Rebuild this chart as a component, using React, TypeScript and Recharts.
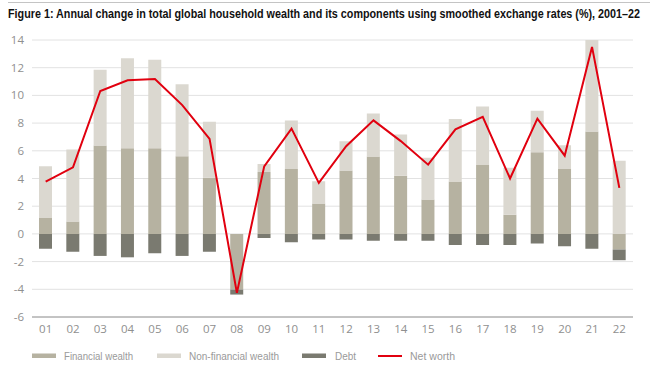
import React from 'react'
import {
  ComposedChart, Bar, Line, XAxis, YAxis, CartesianGrid
} from 'recharts'

const years = ['01','02','03','04','05','06','07','08','09','10','11','12','13','14','15','16','17','18','19','20','21','22']
const financialWealth = [1.18, 0.89, 6.38, 6.18, 6.18, 5.6, 4.06, -4.02, 4.47, 4.69, 2.19, 4.57, 5.58, 4.19, 2.48, 3.78, 4.98, 1.39, 5.89, 4.69, 7.39, -1.13]
const nonFinancialWealth = [3.7, 5.2, 5.48, 6.5, 6.4, 5.2, 4.03, 0, 0.58, 3.49, 1.61, 2.12, 3.11, 2.98, 3.02, 4.52, 4.21, 3.38, 3.01, 1.71, 6.61, 5.29]
const debt = [-1.08, -1.28, -1.59, -1.69, -1.4, -1.59, -1.28, -0.36, -0.29, -0.6, -0.41, -0.41, -0.5, -0.5, -0.5, -0.8, -0.8, -0.8, -0.7, -0.89, -1.08, -0.77]
const netWorth = [3.78, 4.81, 10.32, 11.09, 11.19, 9.3, 6.86, -4.26, 4.88, 7.6, 3.68, 6.33, 8.2, 6.7, 5.0, 7.55, 8.45, 4.0, 8.32, 5.65, 13.5, 3.32]
const yTicks = [-6, -4, -2, 0, 2, 4, 6, 8, 10, 12, 14]

const COLORS = {
  fin: '#b6b2a1',
  nonfin: '#dbd8d0',
  debt: '#7a7a70',
  net: '#e1000f',
}

const sans = '"Liberation Sans", Arial, sans-serif'
const tickFont = { fill: '#8f8f8f', fontSize: 11.5, fontFamily: '"Open Sans", sans-serif' }

const data = years.map((y, i) => ({
  year: y,
  fin: financialWealth[i],
  nonfin: nonFinancialWealth[i],
  debt: debt[i],
  net: netWorth[i],
}))

const legendItems = [
  { label: 'Financial wealth', color: COLORS.fin, kind: 'box', x: 32, tx: 64, w: 69 },
  { label: 'Non-financial wealth', color: COLORS.nonfin, kind: 'box', x: 157, tx: 189, w: 90 },
  { label: 'Debt', color: COLORS.debt, kind: 'box', x: 302, tx: 335, w: 21 },
  { label: 'Net worth', color: COLORS.net, kind: 'line', x: 378, tx: 410, w: 45 },
]

export default function App() {
  return (
    <div style={{ position: 'absolute', left: 0, top: 0, width: 660, height: 369, background: '#fff', overflow: 'hidden' }}>
      <div style={{ position: 'absolute', left: 0, top: 0 }}>
        <ComposedChart
          width={660}
          height={369}
          data={data}
          stackOffset="sign"
          margin={{ top: 40, right: 27, left: 0, bottom: 22 }}
        >
          <CartesianGrid vertical={false} stroke="#e2e2e2" strokeWidth={1} />
          <XAxis
            dataKey="year"
            height={30}
            tickLine={false}
            axisLine={{ stroke: '#b4b4b4', strokeWidth: 1.5 }}
            tick={tickFont}
            interval={0}
          />
          <YAxis
            width={32}
            domain={[-6, 14]}
            ticks={yTicks}
            tickLine={false}
            axisLine={false}
            tick={tickFont}
            allowDataOverflow
          />
          <Bar dataKey="fin" stackId="a" fill={COLORS.fin} barSize={13} isAnimationActive={false} />
          <Bar dataKey="nonfin" stackId="a" fill={COLORS.nonfin} barSize={13} isAnimationActive={false} />
          <Bar dataKey="debt" stackId="a" fill={COLORS.debt} barSize={13} isAnimationActive={false} />
          <Line
            type="linear"
            dataKey="net"
            stroke={COLORS.net}
            strokeWidth={2}
            dot={false}
            isAnimationActive={false}
          />
        </ComposedChart>
      </div>
      <svg width={660} height={369} style={{ position: 'absolute', left: 0, top: 0, pointerEvents: 'none' }}>
        <line x1={8} x2={650} y1={2.5} y2={2.5} stroke="#c4c4c4" strokeWidth={1} />
        <text
          x={8} y={18} fontFamily={sans} fontWeight={700} fontSize={12} fill="#111"
          textLength={632} lengthAdjust="spacingAndGlyphs"
        >
          Figure 1: Annual change in total global household wealth and its components using smoothed exchange rates (%), 2001–22
        </text>
        {legendItems.map(item => (
          <g key={item.label}>
            {item.kind === 'box'
              ? <rect x={item.x} y={353.5} width={24} height={4.5} fill={item.color} />
              : <rect x={item.x} y={355} width={24} height={2} fill={item.color} />}
            <text
              x={item.tx} y={360} fontFamily={sans} fontSize={11.5} fill="#9a9a9a"
              textLength={item.w} lengthAdjust="spacingAndGlyphs"
            >
              {item.label}
            </text>
          </g>
        ))}
      </svg>
    </div>
  )
}
